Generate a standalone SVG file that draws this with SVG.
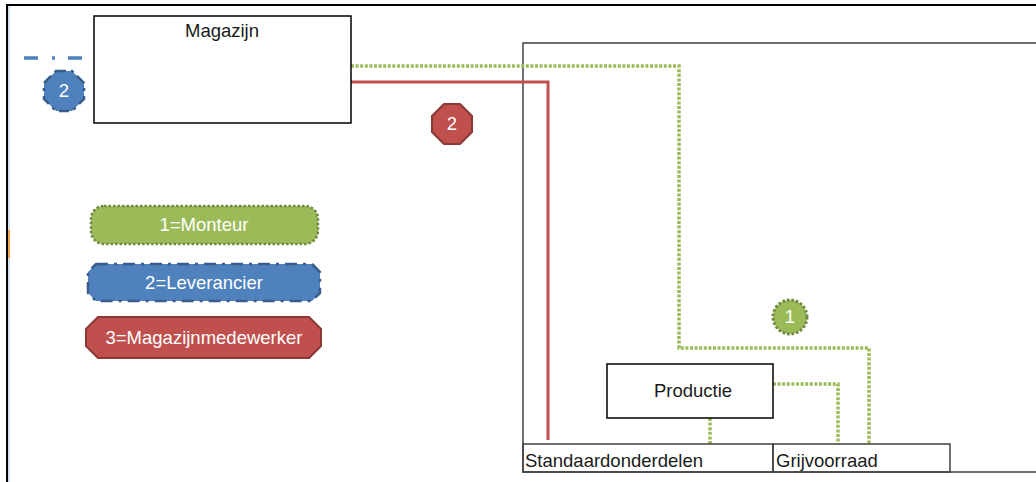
<svg xmlns="http://www.w3.org/2000/svg" width="1036" height="482" viewBox="0 0 1036 482">
<defs>
<style>
.box{fill:#fff;stroke:#000;stroke-width:1.5}
.gbox{fill:none;stroke:#404040;stroke-width:1.5}
.lbl{font-family:"Liberation Sans",Arial,sans-serif;font-size:18.5px;fill:#1a1a1a}
.wt{font-family:"Liberation Sans",Arial,sans-serif;font-size:18.5px;fill:#fff;text-anchor:middle}
.green{fill:none;stroke:#9BBB59;stroke-width:3.5;stroke-dasharray:3 1.6}
.red{fill:none;stroke:#C0504D;stroke-width:3}
.blue{fill:none;stroke:#4F81BD;stroke-width:3.5;stroke-dasharray:14 14 3 13}
</style>
</defs>
<rect width="1036" height="482" fill="#fff"/>
<g id="frame">
<line x1="6" y1="5" x2="1036" y2="5" stroke="#000" stroke-width="2"/>
<line x1="7" y1="4" x2="7" y2="482" stroke="#000" stroke-width="2"/>
<line x1="9" y1="6" x2="9" y2="482" stroke="#c5d5e8" stroke-width="1.5"/>
<line x1="9" y1="230" x2="9" y2="258" stroke="#f5a64a" stroke-width="2"/>
<polyline class="gbox" points="1036,43 523,43 523,472 1036,472"/>
</g>
<g id="connectors">
<polyline class="green" points="351,66 679,66 679,348 869,348 869,444"/>
<polyline class="green" points="773,384 838,384 838,444"/>
<line class="green" x1="710" y1="418" x2="710" y2="444"/>
<polyline class="red" points="351,82 548,82 548,440"/>
<line class="blue" x1="24" y1="58" x2="86" y2="58"/>
</g>
<g id="magazijn">
<rect class="box" x="94" y="16" width="257" height="107"/>
<text class="lbl" x="222" y="37" text-anchor="middle">Magazijn</text>
</g>
<g id="productie">
<rect class="box" x="607" y="364" width="166" height="54"/>
<text class="lbl" x="693" y="397" text-anchor="middle">Productie</text>
</g>
<g id="standaardonderdelen">
<rect class="gbox" x="523" y="444" width="250" height="28"/>
<text class="lbl" x="525" y="467">Standaardonderdelen</text>
</g>
<g id="grijvoorraad">
<rect class="gbox" x="773" y="444" width="177" height="28"/>
<text class="lbl" x="776" y="467">Grijvoorraad</text>
</g>
<g id="badge-blue">
<polygon points="56,71 72,71 84,83 84,99 72,111 56,111 44,99 44,83" fill="#4F81BD" stroke="#385D8A" stroke-width="2.5" stroke-dasharray="10 5 3 5"/>
<text class="wt" x="64" y="97">2</text>
</g>
<g id="badge-red">
<polygon points="444,104 460,104 472,116 472,132 460,144 444,144 432,132 432,116" fill="#C0504D" stroke="#8C3836" stroke-width="2"/>
<text class="wt" x="452" y="130">2</text>
</g>
<g id="badge-green">
<circle cx="790" cy="317" r="17" fill="#9BBB59" stroke="#71893F" stroke-width="3" stroke-dasharray="2.5 2"/>
<text class="wt" x="790" y="323">1</text>
</g>
<g id="legend-monteur">
<rect x="91" y="206" width="227" height="38" rx="13" fill="#9BBB59" stroke="#71893F" stroke-width="2.5" stroke-dasharray="2.5 2"/>
<text class="wt" x="204" y="231">1=Monteur</text>
</g>
<g id="legend-leverancier">
<path d="M96,264 H312 L320,272 V293 L312,301 H96 L88,293 V272 Z" fill="#4F81BD" stroke="#385D8A" stroke-width="2.5" stroke-dasharray="12 6 3 6"/>
<text class="wt" x="204" y="289">2=Leverancier</text>
</g>
<g id="legend-magazijnmedewerker">
<path d="M98,317 H309 L321,329 V346 L309,358 H98 L86,346 V329 Z" fill="#C0504D" stroke="#8C3836" stroke-width="2"/>
<text class="wt" x="204" y="344">3=Magazijnmedewerker</text>
</g>
</svg>
